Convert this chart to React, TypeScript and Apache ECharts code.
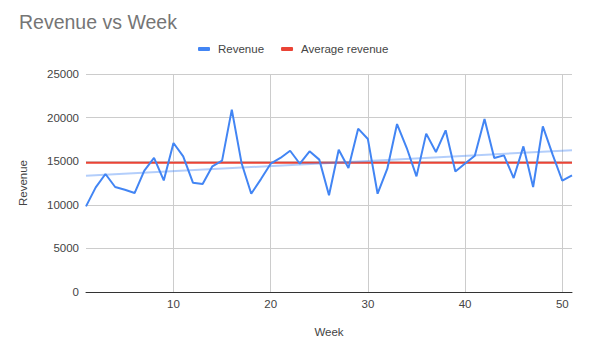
import React, { useEffect, useRef } from "react";
import * as echarts from "echarts";

const weeks = [
  1, 2, 3, 4, 5, 6, 7, 8, 9, 10,
  11, 12, 13, 14, 15, 16, 17, 18, 19, 20,
  21, 22, 23, 24, 25, 26, 27, 28, 29, 30,
  31, 32, 33, 34, 35, 36, 37, 38, 39, 40,
  41, 42, 43, 44, 45, 46, 47, 48, 49, 50, 51,
];

const revenue = [
  9820, 12000, 13530, 12040, 11730, 11350, 13910, 15370, 12800, 17090,
  15550, 12540, 12390, 14410, 15060, 20910, 14800, 11270, 12950, 14710,
  15370, 16200, 14710, 16130, 15180, 11100, 16320, 14220, 18730, 17540,
  11270, 14140, 19260, 16510, 13260, 18160, 16050, 18540, 13830, 14740,
  15620, 19840, 15370, 15670, 13070, 16700, 12040, 18990, 15790, 12760, 13370,
];

const averageRevenue = 14830;
const yTicks = [0, 5000, 10000, 15000, 20000, 25000];
const xTicks = [10, 20, 30, 40, 50];

const FONT = "'Liberation Sans', Arial, sans-serif";

function linearFit(xs: number[], ys: number[]) {
  const n = xs.length;
  let sx = 0, sy = 0, sxx = 0, sxy = 0;
  for (let i = 0; i < n; i++) {
    sx += xs[i];
    sy += ys[i];
    sxx += xs[i] * xs[i];
    sxy += xs[i] * ys[i];
  }
  const slope = (n * sxy - sx * sy) / (n * sxx - sx * sx);
  const intercept = (sy - slope * sx) / n;
  return (x: number) => intercept + slope * x;
}

export default function App() {
  const ref = useRef<HTMLDivElement>(null);
  useEffect(() => {
    if (!ref.current) return;
    const chart = echarts.init(ref.current, null, { renderer: "svg" });
    const fit = linearFit(weeks, revenue);
    const first = weeks[0];
    const last = weeks[weeks.length - 1];
    chart.setOption({
      animation: false,
      backgroundColor: "#ffffff",
      title: {
        text: "Revenue vs Week",
        left: 19,
        top: 12,
        padding: 0,
        textStyle: {
          fontFamily: FONT,
          fontSize: 19.5,
          fontWeight: "normal",
          color: "#757575",
        },
      },
      legend: {
        data: ["Revenue", "Average revenue"],
        left: 198,
        top: 43,
        padding: 0,
        icon: "roundRect",
        itemWidth: 12,
        itemHeight: 4,
        itemGap: 17,
        textStyle: {
          fontFamily: FONT,
          fontSize: 11.5,
          color: "#444444",
          padding: [0, 0, 0, 3],
        },
      },
      grid: { left: 86, right: 40, top: 74, bottom: 59 },
      xAxis: {
        type: "value",
        min: first,
        max: last,
        splitNumber: xTicks.length,
        name: "Week",
        nameLocation: "middle",
        nameGap: 34,
        nameTextStyle: { fontFamily: FONT, fontSize: 11.5, color: "#444444" },
        axisLine: { show: true, onZero: false, lineStyle: { color: "#333333", width: 1 } },
        axisTick: { show: false },
        axisLabel: {
          showMinLabel: false,
          showMaxLabel: false,
          fontFamily: FONT,
          fontSize: 11.5,
          color: "#444444",
          margin: 6,
          formatter: (v: number) => String(v),
        },
        splitLine: {
          show: true,
          showMinLine: false,
          showMaxLine: false,
          lineStyle: { color: "#cccccc", width: 1 },
        },
      },
      yAxis: {
        type: "value",
        min: yTicks[0],
        max: yTicks[yTicks.length - 1],
        interval: yTicks[1] - yTicks[0],
        name: "Revenue",
        nameLocation: "middle",
        nameGap: 57,
        nameRotate: 90,
        nameTextStyle: { fontFamily: FONT, fontSize: 11.5, color: "#444444" },
        axisLine: { show: false },
        axisTick: { show: false },
        axisLabel: {
          fontFamily: FONT,
          fontSize: 11.5,
          color: "#444444",
          margin: 7,
          formatter: (v: number) => String(v),
        },
        splitLine: { show: true, lineStyle: { color: "#cccccc", width: 1 } },
      },
      series: [
        {
          name: "Average revenue",
          type: "line",
          data: weeks.map((w) => [w, averageRevenue]),
          symbol: "none",
          lineStyle: { color: "#ea4335", width: 2 },
          itemStyle: { color: "#ea4335" },
          z: 2,
        },
        {
          name: "Trendline",
          type: "line",
          data: [
            [first, fit(first)],
            [last, fit(last)],
          ],
          symbol: "none",
          lineStyle: { color: "#4285f4", width: 2, opacity: 0.4 },
          itemStyle: { color: "#4285f4" },
          z: 3,
        },
        {
          name: "Revenue",
          type: "line",
          data: weeks.map((w, i) => [w, revenue[i]]),
          symbol: "none",
          lineStyle: { color: "#4285f4", width: 2 },
          itemStyle: { color: "#4285f4" },
          z: 4,
        },
      ],
    });
    return () => chart.dispose();
  }, []);
  return (
    <div
      ref={ref}
      style={{ position: "fixed", left: 0, top: 0, width: 612, height: 351, background: "#fff" }}
    />
  );
}
